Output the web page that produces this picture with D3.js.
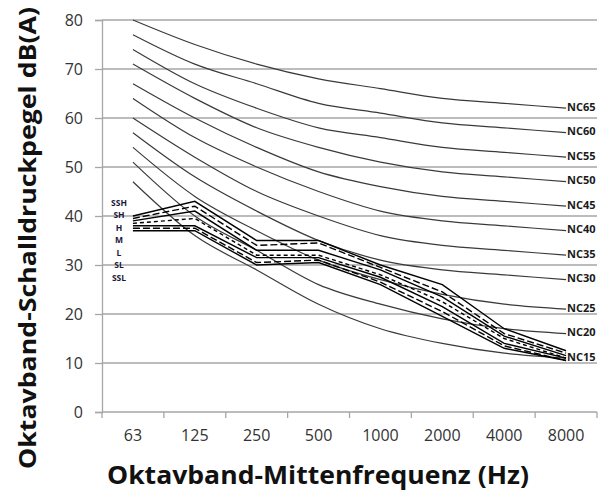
<!DOCTYPE html>
<html>
<head>
    <title>NC curves</title>
    <script src="https://d3js.org/d3.v7.min.js"></script>
    <style>
        body { margin: 0; background: #fff; }
        text { font-family: "Open Sans", "DejaVu Sans", sans-serif; }
    </style>
</head>
<body>
<svg width="608" height="491"></svg>
<script>
    // octave band centre frequencies
    var freqs = ["63", "125", "250", "500", "1000", "2000", "4000", "8000"];
    var yTicks = [0, 10, 20, 30, 40, 50, 60, 70, 80];

    // NC reference curves, dB per octave band
    var nc15 = [47, 36, 29, 22, 17, 14, 12, 11];
    var nc20 = [51, 40, 33, 26, 22, 19, 17, 16];
    var nc25 = [54, 44, 37, 31, 27, 24, 22, 21];
    var nc30 = [57, 48, 41, 35, 31, 29, 28, 27];
    var nc35 = [60, 52, 45, 40, 36, 34, 33, 32];
    var nc40 = [64, 56, 50, 45, 41, 39, 38, 37];
    var nc45 = [67, 60, 54, 49, 46, 44, 43, 42];
    var nc50 = [71, 64, 58, 54, 51, 49, 48, 47];
    var nc55 = [74, 67, 62, 58, 56, 54, 53, 52];
    var nc60 = [77, 71, 67, 63, 61, 59, 58, 57];
    var nc65 = [80, 75, 71, 68, 66, 64, 63, 62];
    var ncNames = ["NC15", "NC20", "NC25", "NC30", "NC35", "NC40", "NC45", "NC50", "NC55", "NC60", "NC65"];
    var ncCurves = [nc15, nc20, nc25, nc30, nc35, nc40, nc45, nc50, nc55, nc60, nc65];

    // measured spectra, fan speed steps
    var ssh = [40, 43, 35, 35, 30, 26, 17, 12.5];
    var sh  = [39.5, 42, 34, 34.5, 29.5, 24.5, 16, 12];
    var h   = [39, 41, 33, 33, 29, 23.5, 15.5, 11.5];
    var m   = [38.5, 39.5, 32, 32, 28, 22.5, 15, 11];
    var l   = [38, 38, 31.5, 31.5, 27.5, 21.5, 14, 11];
    var sl  = [37.5, 37.5, 30.5, 31, 26.5, 20.5, 13.5, 10.5];
    var ssl = [37, 37, 30, 30.5, 26, 19.5, 13, 10.5];
    var stepNames = ["SSH", "SH", "H", "M", "L", "SL", "SSL"];
    var steps = [ssh, sh, h, m, l, sl, ssl];
    var stepDash = [null, "7,3", null, "4,3", null, "7,3", null];

    var svg = d3.select("svg");

    var x = d3.scaleBand().domain(freqs).range([102, 597]);
    var y = d3.scaleLinear().domain([0, 80]).range([412, 20]);
    var cx = function (f) { return x(f) + x.bandwidth() / 2; };

    // gridlines
    svg.append("g")
        .selectAll("line")
        .data(yTicks.slice(1))
        .enter().append("line")
        .attr("x1", 102).attr("x2", 597)
        .attr("y1", function (d) { return y(d); })
        .attr("y2", function (d) { return y(d); })
        .attr("stroke", "#a6a6a6")
        .attr("stroke-width", 1.3);

    // y axis
    var yAxis = svg.append("g")
        .attr("transform", "translate(102,0)")
        .call(d3.axisLeft(y).tickValues(yTicks).tickSize(7).tickPadding(12));
    yAxis.select(".domain").attr("stroke", "#a6a6a6").attr("stroke-width", 1.3);
    yAxis.selectAll(".tick line").attr("stroke", "#a6a6a6").attr("stroke-width", 1.3);
    yAxis.selectAll("text").attr("font-size", 16).attr("fill", "#333")
        .style("font-family", "'Open Sans', sans-serif");

    // x axis: labels at band centres, ticks at band edges
    var xAxis = svg.append("g")
        .attr("transform", "translate(0,412)")
        .call(d3.axisBottom(x).tickSize(0).tickPadding(18));
    xAxis.select(".domain").remove();
    xAxis.selectAll("text").attr("font-size", 16).attr("fill", "#333")
        .style("font-family", "'Open Sans', sans-serif");
    var edges = freqs.map(function (f) { return x(f); }).concat([x.range()[1]]);
    svg.append("line")
        .attr("x1", 102).attr("x2", 597).attr("y1", 412).attr("y2", 412)
        .attr("stroke", "#a6a6a6").attr("stroke-width", 1.3);
    svg.append("g")
        .selectAll("line")
        .data(edges)
        .enter().append("line")
        .attr("x1", function (d) { return d; })
        .attr("x2", function (d) { return d; })
        .attr("y1", 412).attr("y2", 418)
        .attr("stroke", "#a6a6a6").attr("stroke-width", 1.3);

    // NC curves (smoothed)
    var ncLine = d3.line()
        .x(function (d, i) { return cx(freqs[i]); })
        .y(function (d) { return y(d); })
        .curve(d3.curveMonotoneX);

    svg.append("g")
        .selectAll("path")
        .data(ncCurves)
        .enter().append("path")
        .attr("d", ncLine)
        .attr("fill", "none")
        .attr("stroke", "#3a3a3a")
        .attr("stroke-width", 1.2);

    svg.append("g")
        .selectAll("text")
        .data(ncCurves)
        .enter().append("text")
        .attr("x", cx("8000") + 1)
        .attr("y", function (d) { return y(d[d.length - 1]) - 2; })
        .attr("dominant-baseline", "central")
        .attr("font-size", 11)
        .attr("font-weight", "bold")
        .attr("fill", "#1a1a1a")
        .text(function (d, i) { return ncNames[i]; });

    // measured spectra (straight segments)
    var stepLine = d3.line()
        .x(function (d, i) { return cx(freqs[i]); })
        .y(function (d) { return y(d); });

    svg.append("g")
        .selectAll("path")
        .data(steps)
        .enter().append("path")
        .attr("d", stepLine)
        .attr("fill", "none")
        .attr("stroke", "#000")
        .attr("stroke-width", 1.4)
        .attr("stroke-dasharray", function (d, i) { return stepDash[i]; });

    svg.append("g")
        .selectAll("text")
        .data(stepNames)
        .enter().append("text")
        .attr("x", 119)
        .attr("y", function (d, i) { return 202 + i * 12.5; })
        .attr("text-anchor", "middle")
        .attr("dominant-baseline", "central")
        .attr("font-size", 8.5)
        .attr("font-weight", "bold")
        .attr("fill", "#1a1a3a")
        .text(function (d) { return d; });

    // axis titles
    svg.append("text")
        .attr("x", 318)
        .attr("y", 484)
        .attr("text-anchor", "middle")
        .attr("font-size", 25)
        .attr("font-weight", "bold")
        .attr("fill", "#111")
        .attr("textLength", 422)
        .attr("lengthAdjust", "spacingAndGlyphs")
        .text("Oktavband-Mittenfrequenz (Hz)");

    svg.append("text")
        .attr("transform", "translate(36,238) rotate(-90)")
        .attr("text-anchor", "middle")
        .attr("font-size", 24)
        .attr("font-weight", "bold")
        .attr("fill", "#111")
        .attr("textLength", 462)
        .attr("lengthAdjust", "spacingAndGlyphs")
        .text("Oktavband-Schalldruckpegel dB(A)");
</script>
</body>
</html>
